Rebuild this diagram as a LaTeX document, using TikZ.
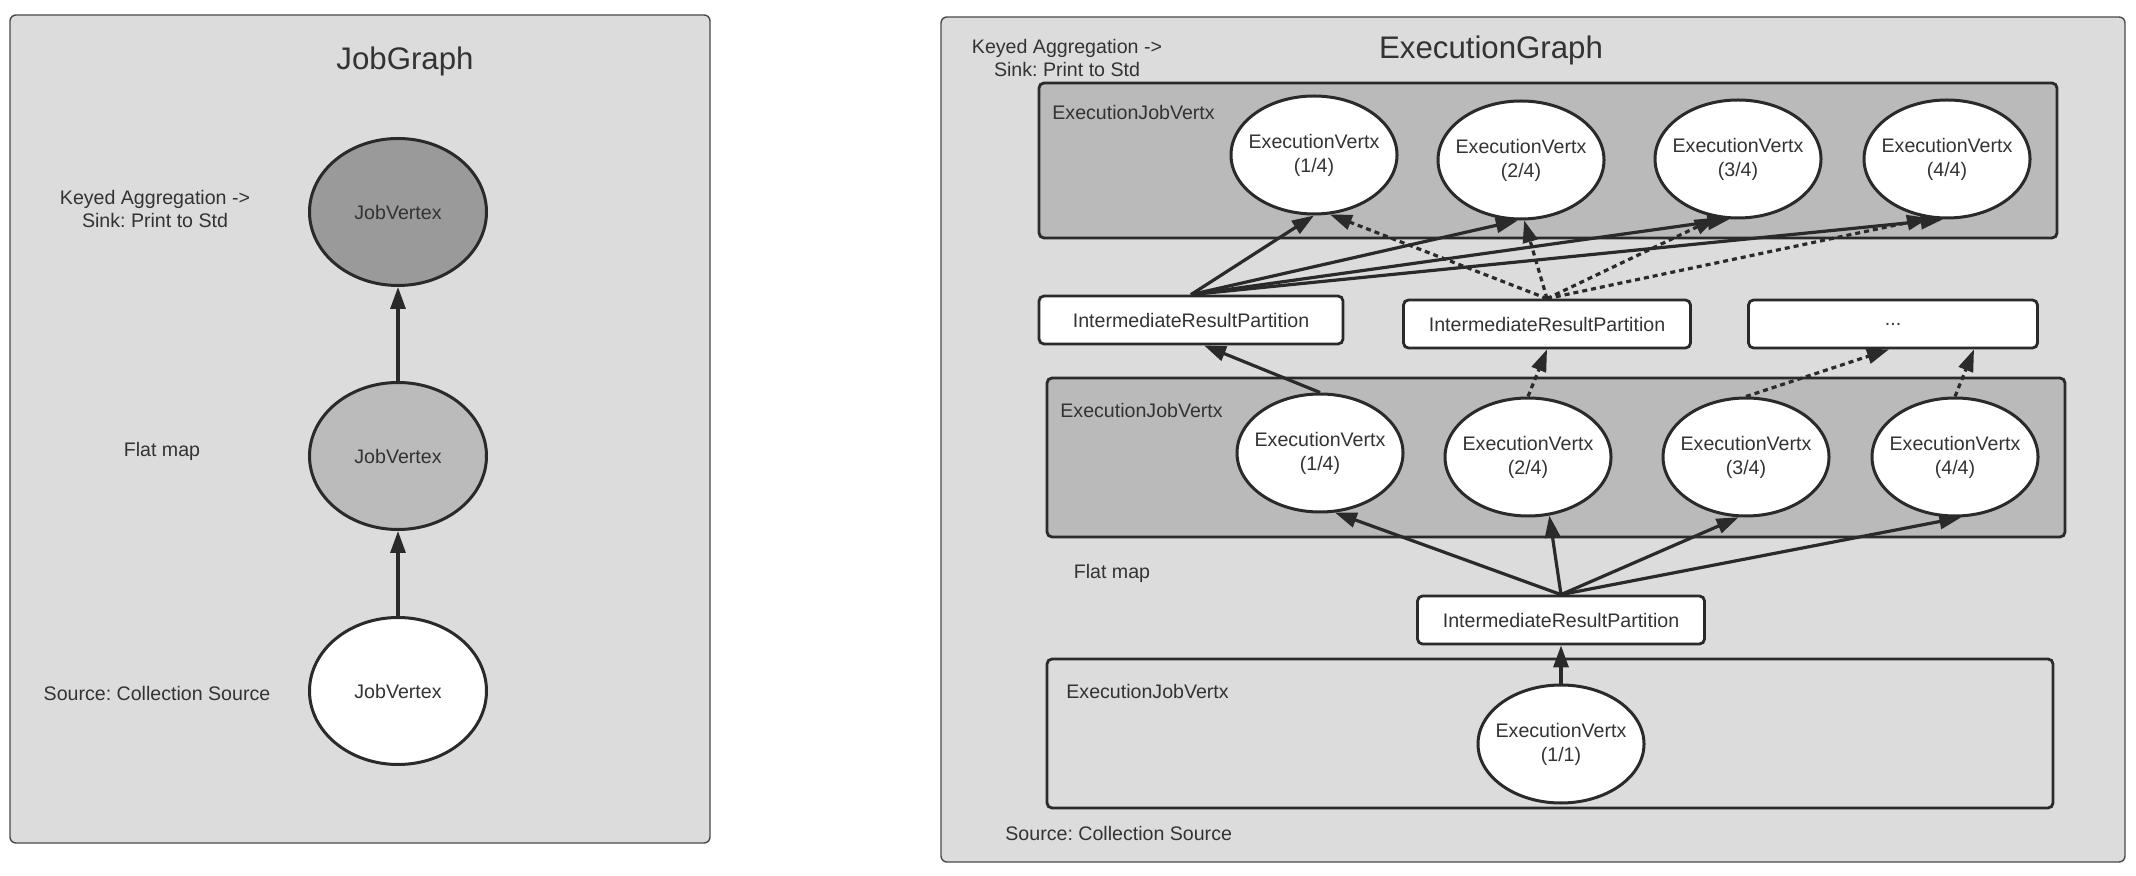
\documentclass[tikz,border=0pt]{standalone}
\usepackage{fontspec}
\setmainfont{Liberation Sans}
\usetikzlibrary{arrows.meta,calc,shapes.geometric}
\definecolor{panelbg}{HTML}{DCDCDC}
\definecolor{boxdark}{HTML}{BABABA}
\definecolor{vdark}{HTML}{9B9A9B}
\definecolor{vmid}{HTML}{BBBBBB}
\definecolor{ink}{HTML}{2A2A2A}
\definecolor{txt}{HTML}{333333}
\frenchspacing
\begin{document}
\begin{tikzpicture}[x=0.5pt,y=-0.5pt,
  every node/.style={text=txt, font=\fontsize{9.8pt}{11.8pt}\selectfont\frenchspacing},
  panel/.style={draw=ink!85, line width=0.7pt, fill=panelbg, rounded corners=3pt},
  group/.style={draw=ink, line width=1.4pt, rounded corners=2.5pt},
  jv/.style={ellipse, draw=ink, line width=1.5pt, minimum width=88.5pt, minimum height=73.5pt, inner sep=0pt},
  ev/.style={ellipse, draw=ink, line width=1.5pt, fill=white, minimum width=83pt, minimum height=59pt, inner xsep=-8pt, inner ysep=0pt, align=center, font=\fontsize{9.8pt}{12pt}\selectfont},
  irp/.style={rectangle, draw=ink, line width=1.4pt, fill=white, rounded corners=2.5pt, minimum width=143.5pt, minimum height=24pt, inner sep=0pt},
  title/.style={font=\fontsize{15.6pt}{18pt}\selectfont},
  lbl/.style={align=center},
  arr/.style={draw=ink, line width=1.6pt, -{Triangle[length=11pt,width=7.5pt]}},
  darr/.style={arr, dash pattern=on 2.5pt off 2pt},
]
\useasboundingbox[fill=white] (0,0) rectangle (2136,876);

% ---------- left panel ----------
\draw[panel] (10,15) rectangle (710,843);
\node[title] (jgt) at (405,61) {JobGraph};
\node[jv, fill=vdark] (j3) at (398,212) {JobVertex};
\node[jv, fill=vmid] (j2) at (398,456) {JobVertex};
\node[jv, fill=white] (j1) at (398,691) {JobVertex};
\node[lbl] (l3) at (155,209) {Keyed Aggregation ->\\Sink: Print to Std};
\node (l2) at (162,451) {Flat map};
\node (l1) at (157,693) {Source: Collection Source};
\draw[arr] (j2.north) -- (j3.south);
\draw[arr] (j1.north) -- (j2.south);

% ---------- right panel ----------
\draw[panel] (941,17) rectangle (2125,862);
\draw[group, fill=boxdark] (1039,83) rectangle (2057,238);
\draw[group, fill=boxdark] (1047,378) rectangle (2065,537);
\draw[group] (1047,659) rectangle (2053,808);

\node[title] (egt) at (1491,50) {ExecutionGraph};
\node[lbl] (rl3) at (1067,58) {Keyed Aggregation ->\\Sink: Print to Std};
\node[anchor=west, inner sep=0pt] (g3) at (1052,113) {ExecutionJobVertx};
\node[anchor=west, inner sep=0pt] (g2) at (1060,410) {ExecutionJobVertx};
\node[anchor=west, inner sep=0pt] (g1) at (1066,691) {ExecutionJobVertx};
\node (rl2) at (1112,573) {Flat map};
\node[anchor=west, inner sep=0pt] (rl1) at (1005,833) {Source: Collection Source};

\node[ev] (E1) at (1314,155) {ExecutionVertx\\(1/4)};
\node[ev] (E2) at (1521,160) {ExecutionVertx\\(2/4)};
\node[ev] (E3) at (1738,159) {ExecutionVertx\\(3/4)};
\node[ev] (E4) at (1947,159) {ExecutionVertx\\(4/4)};

\node[irp, minimum width=152pt] (B1) at (1191,320) {IntermediateResultPartition};
\node[irp] (B2) at (1547,324) {IntermediateResultPartition};
\node[irp, minimum width=144.5pt] (B3) at (1893,324) {...};

\node[ev] (M1) at (1320,453) {ExecutionVertx\\(1/4)};
\node[ev] (M2) at (1528,457) {ExecutionVertx\\(2/4)};
\node[ev] (M3) at (1746,457) {ExecutionVertx\\(3/4)};
\node[ev] (M4) at (1955,457) {ExecutionVertx\\(4/4)};

\node[irp] (I0) at (1561,620) {IntermediateResultPartition};
\node[ev] (S) at (1561,744) {ExecutionVertx\\(1/1)};

% arrows bottom -> middle
\draw[arr] (S.north) -- (I0.south);
\draw[arr] (I0.north) -- (M1.-76);
\draw[arr] (I0.north) -- (M2.-70);
\draw[arr] (I0.north) -- (M3.-97);
\draw[arr] (I0.north) -- (M4.-84);

% middle -> partitions
\draw[arr] (M1.north) -- ($(B1.south)+(13,0)$);
\draw[darr] (M2.north) -- (B2.south);
\draw[darr] (M3.north) -- ($(B3.south)+(-4,0)$);
\draw[darr] (M4.north) -- ($(B3.south)+(81,0)$);

% partitions -> top
\draw[arr] (B1.north) -- (E1.south);
\draw[arr] (B1.north) -- (E2.-93);
\draw[arr] (B1.north) -- (E3.-98);
\draw[arr] (B1.north) -- (E4.-94);
\draw[darr] (B2.north) -- (E1.-75);
\draw[darr] (B2.north) -- (E2.-87);
\draw[darr] (B2.north) -- (E3.-110);
\draw[darr] (B2.north) -- (E4.-107);
\end{tikzpicture}
\end{document}
